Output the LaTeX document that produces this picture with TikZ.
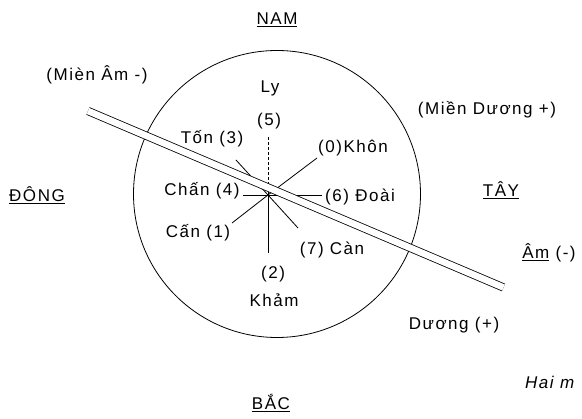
\documentclass[tikz,border=0pt]{standalone}
\usepackage{fontspec}
\setmainfont{Liberation Sans}[LetterSpace=9]
\usetikzlibrary{positioning}

\begin{document}
\begin{tikzpicture}[x=1pt,y=-1pt,
  lbl/.style={font=\fontsize{17}{19}\selectfont, inner sep=0pt},
  ray/.style={line width=0.8pt}]

\useasboundingbox (0,0) rectangle (582,419);

% Circle
\node[draw, circle, line width=0.8pt, minimum size=287pt, inner sep=0pt] (disc) at (277,194) {};

%-------------------------------------------------
% Directions
%-------------------------------------------------

\node[lbl] (nam) at (277,20) {\underline{NAM}};
\node[lbl] (bac) at (271,403) {\underline{BẮC}};
\node[lbl] (dong) at (37,195) {\underline{ĐÔNG}};
\node[lbl] (tay) at (501,190) {\underline{TÂY}};

\node[lbl] (mienam) at (97,75) {(Mièn Âm -)};
\node[lbl] (mienduong) at (487,110) {(Miền Dương +)};
\node[lbl] (am) at (549,253) {\underline{Âm} (-)};
\node[lbl] (duong) at (454,325) {Dương (+)};
\node[lbl, anchor=west, font=\fontsize{17}{19}\selectfont\itshape] (hai) at (525,382) {Hai m};

%-------------------------------------------------
% Star of eight rays
%-------------------------------------------------

\coordinate (c) at (268,195);

\coordinate (r5) at (268,137);
\coordinate (r2) at (268,253);
\coordinate (r4) at (243,195);
\coordinate (r6) at (322,195);
\coordinate (r0) at (317,158);
\coordinate (r1) at (232,223);
\coordinate (r3) at (236,160);
\coordinate (r7) at (298,228);

\draw[ray, dash pattern=on 3pt off 2pt] (c) -- (r5);
\draw[ray] (c) -- (r2);
\draw[ray] (c) -- (r4);
\draw[ray] (c) -- (r6);
\draw[ray] (c) -- (r0);
\draw[ray] (c) -- (r1);
\draw[ray] (c) -- (r3);
\draw[ray] (c) -- (r7);

\node[lbl] (ly) at (270,88) {Ly};
\node[lbl] (n5) at (269,121) {(5)};
\node[lbl] (ton) at (212,139) {Tốn (3)};
\node[lbl] (khon) at (353,148) {(0)Khôn};
\node[lbl] (chan) at (202,191) {Chấn (4)};
\node[lbl] (doai) at (360,197) {(6) Đoài};
\node[lbl] (can1) at (198,233) {Cấn (1)};
\node[lbl] (can7) at (332,250) {(7) Càn};
\node[lbl] (n2) at (273,274) {(2)};
\node[lbl] (kham) at (274,300) {Khảm};

%-------------------------------------------------
% Double dividing line
%-------------------------------------------------

\coordinate (lineA) at (88,111);
\coordinate (lineB) at (503.5,287.5);
\draw[line width=0.8pt, double, double distance=6.6pt] (lineA) -- (lineB);

\end{tikzpicture}
\end{document}
